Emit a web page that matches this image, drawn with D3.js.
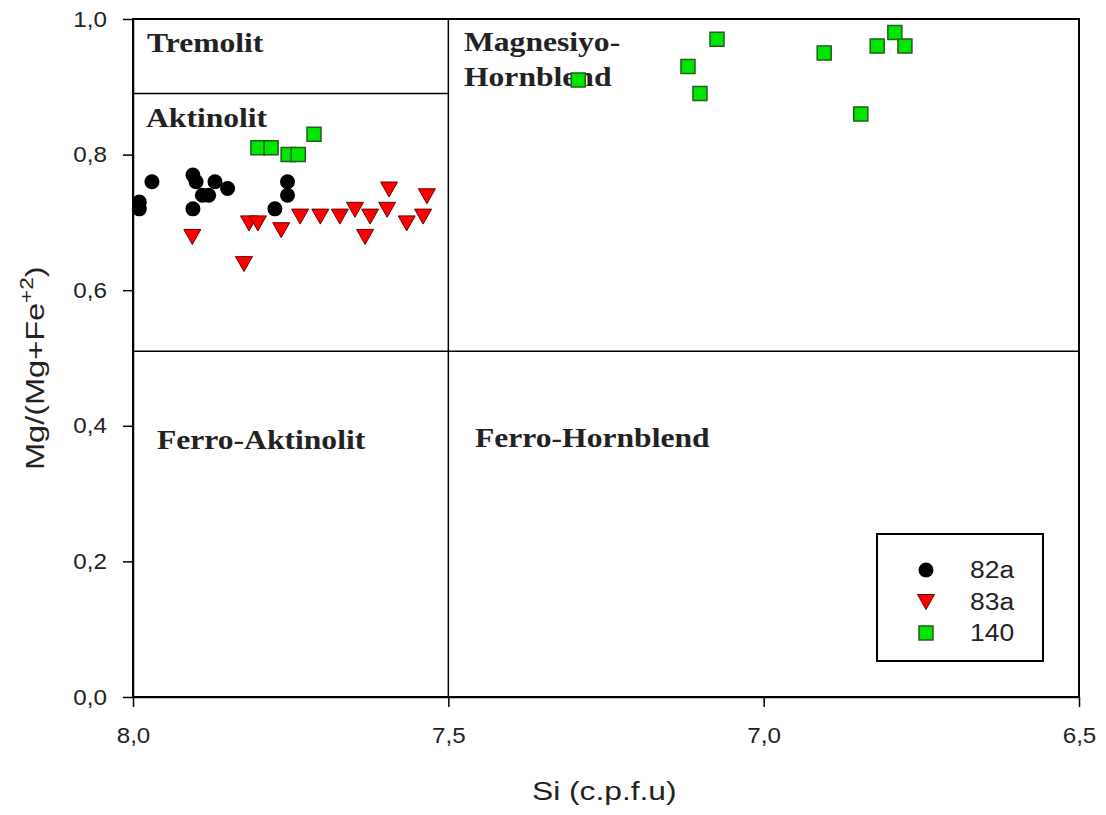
<!DOCTYPE html>
<html lang="tr">
<head>
    <meta charset="UTF-8">
    <title>Mg/(Mg+Fe2) - Si</title>
    <script src="https://cdn.jsdelivr.net/npm/d3@7/dist/d3.min.js"></script>
    <style>
        body { margin: 0; background: #fff; }
        .axis path, .axis line { stroke: #000; stroke-width: 1.5; }
        .axis text { font-family: Arial, "Liberation Sans", sans-serif; font-size: 22px; fill: #222; }
        .field { font-family: "Liberation Serif", "Times New Roman", serif; font-weight: bold; font-size: 27px; fill: #222; }
        .title { font-family: Arial, "Liberation Sans", sans-serif; font-size: 26px; fill: #222; }
        .leg { font-family: Arial, "Liberation Sans", sans-serif; font-size: 23px; fill: #222; }
    </style>
</head>
<body>
<script>
    // veriler
    var s82aSi = [7.99, 7.99, 7.97, 7.905, 7.90, 7.905, 7.89, 7.88, 7.87, 7.85, 7.775, 7.755, 7.755];
    var s82aMg = [0.72, 0.73, 0.76, 0.77, 0.76, 0.72, 0.74, 0.74, 0.76, 0.75, 0.72, 0.76, 0.74];

    var s83aSi = [7.906, 7.824, 7.816, 7.802, 7.765, 7.735, 7.703, 7.672, 7.648, 7.632, 7.624, 7.597, 7.594, 7.566, 7.540, 7.534];
    var s83aMg = [0.68, 0.64, 0.70, 0.70, 0.69, 0.71, 0.71, 0.71, 0.72, 0.68, 0.71, 0.72, 0.75, 0.70, 0.71, 0.74];

    var s140Si = [7.802, 7.781, 7.754, 7.738, 7.713, 7.294, 7.074, 7.120, 7.101, 6.904, 6.820, 6.792, 6.776, 6.846];
    var s140Mg = [0.81, 0.81, 0.80, 0.80, 0.83, 0.91, 0.97, 0.93, 0.89, 0.95, 0.96, 0.98, 0.96, 0.86];

    var xTicks = [8.0, 7.5, 7.0, 6.5];
    var yTicks = [0, 0.2, 0.4, 0.6, 0.8, 1.0];
    var seriesNames = ["82a", "83a", "140"];

    // sınır çizgileri
    var siBoundary = 7.5;
    var mgBoundary = 0.51;
    var tremolitBoundary = 0.89;

    var width = 1106, height = 815;
    var margin = {left: 133, right: 27, top: 19, bottom: 118};

    var svg = d3.select("body").append("svg")
        .attr("width", width)
        .attr("height", height);

    var x = d3.scaleLinear().domain([8.0, 6.5]).range([margin.left, width - margin.right]);
    var y = d3.scaleLinear().domain([0, 1]).range([height - margin.bottom, margin.top]);

    var fmt = function (d) { return d3.format(".1f")(d).replace(".", ","); };

    // yazılar resimde yatay olarak biraz geniş
    function stretch(sel, k) {
        sel.each(function () {
            var w = this.getComputedTextLength();
            d3.select(this).attr("textLength", w * k).attr("lengthAdjust", "spacingAndGlyphs");
        });
    }

    // çerçeve
    svg.append("rect")
        .attr("x", x(8.0)).attr("y", y(1))
        .attr("width", x(6.5) - x(8.0)).attr("height", y(0) - y(1))
        .attr("fill", "none").attr("stroke", "#000").attr("stroke-width", 2);

    // eksenler
    var gx = svg.append("g").attr("class", "axis")
        .attr("transform", "translate(0," + y(0) + ")")
        .call(d3.axisBottom(x).tickValues(xTicks).tickFormat(fmt).tickSize(10).tickPadding(20).tickSizeOuter(0));
    var gy = svg.append("g").attr("class", "axis")
        .attr("transform", "translate(" + x(8.0) + ",0)")
        .call(d3.axisLeft(y).tickValues(yTicks).tickFormat(fmt).tickSize(10).tickPadding(16).tickSizeOuter(0));
    stretch(gx.selectAll("text"), 1.1);
    stretch(gy.selectAll("text"), 1.1);

    // alan çizgileri
    svg.append("line")
        .attr("x1", x(siBoundary)).attr("x2", x(siBoundary))
        .attr("y1", y(1)).attr("y2", y(0))
        .attr("stroke", "#000").attr("stroke-width", 1.5);
    svg.append("line")
        .attr("x1", x(8.0)).attr("x2", x(6.5))
        .attr("y1", y(mgBoundary)).attr("y2", y(mgBoundary))
        .attr("stroke", "#000").attr("stroke-width", 1.5);
    svg.append("line")
        .attr("x1", x(8.0)).attr("x2", x(siBoundary))
        .attr("y1", y(tremolitBoundary)).attr("y2", y(tremolitBoundary))
        .attr("stroke", "#000").attr("stroke-width", 1.5);

    // alan isimleri
    var fields = [
        {t: "Tremolit", x: 147, y: 52},
        {t: "Aktinolit", x: 146, y: 127},
        {t: "Magnesiyo-", x: 464, y: 51},
        {t: "Hornblend", x: 464, y: 86},
        {t: "Ferro-Aktinolit", x: 157, y: 449},
        {t: "Ferro-Hornblend", x: 475, y: 447}
    ];
    var ft = svg.selectAll(".field").data(fields).enter().append("text")
        .attr("class", "field")
        .attr("x", function (d) { return d.x; })
        .attr("y", function (d) { return d.y; })
        .text(function (d) { return d.t; });
    stretch(ft, 1.17);

    // işaretler
    var tri = "M-8.5,-6.5L8.5,-6.5L0,8.5Z";
    var sq = "M-7,-7H7V7H-7Z";

    svg.append("g").selectAll("circle").data(d3.zip(s82aSi, s82aMg)).enter().append("circle")
        .attr("cx", function (d) { return x(d[0]); })
        .attr("cy", function (d) { return y(d[1]); })
        .attr("r", 7.5)
        .attr("fill", "#000");

    svg.append("g").selectAll("path").data(d3.zip(s83aSi, s83aMg)).enter().append("path")
        .attr("d", tri)
        .attr("transform", function (d) { return "translate(" + x(d[0]) + "," + y(d[1]) + ")"; })
        .attr("fill", "#ff0000").attr("stroke", "#6b0000").attr("stroke-width", 1);

    svg.append("g").selectAll("path").data(d3.zip(s140Si, s140Mg)).enter().append("path")
        .attr("d", sq)
        .attr("transform", function (d) { return "translate(" + x(d[0]) + "," + y(d[1]) + ")"; })
        .attr("fill", "#00e600").attr("stroke", "#1f5f1f").attr("stroke-width", 1.5);

    // lejant
    var lg = svg.append("g");
    lg.append("rect")
        .attr("x", 877).attr("y", 534).attr("width", 166).attr("height", 127)
        .attr("fill", "#fff").attr("stroke", "#000").attr("stroke-width", 2);
    var rows = [570, 602, 633];
    lg.append("circle").attr("cx", 926).attr("cy", rows[0]).attr("r", 7.5).attr("fill", "#000");
    lg.append("path").attr("d", tri).attr("transform", "translate(926," + (rows[1] - 1) + ")")
        .attr("fill", "#ff0000").attr("stroke", "#6b0000");
    lg.append("path").attr("d", sq).attr("transform", "translate(926," + rows[2] + ")")
        .attr("fill", "#00e600").attr("stroke", "#1f5f1f").attr("stroke-width", 1.5);
    var lt = lg.selectAll("text").data(seriesNames).enter().append("text")
        .attr("class", "leg")
        .attr("x", 970)
        .attr("y", function (d, i) { return rows[i] + 8; })
        .text(function (d) { return d; });
    stretch(lt, 1.15);

    // eksen başlıkları
    var xt = svg.append("text").attr("class", "title")
        .attr("x", 532).attr("y", 800)
        .text("Si (c.p.f.u)");
    stretch(xt, 1.22);
    var yt = svg.append("text").attr("class", "title")
        .attr("transform", "translate(44,470) rotate(-90)");
    yt.append("tspan").text("Mg/(Mg+Fe");
    yt.append("tspan").attr("dy", -11).attr("font-size", 18).text("+2");
    yt.append("tspan").attr("dy", 11).text(")");
    stretch(yt.selectAll("tspan"), 1.25);
</script>
</body>
</html>
